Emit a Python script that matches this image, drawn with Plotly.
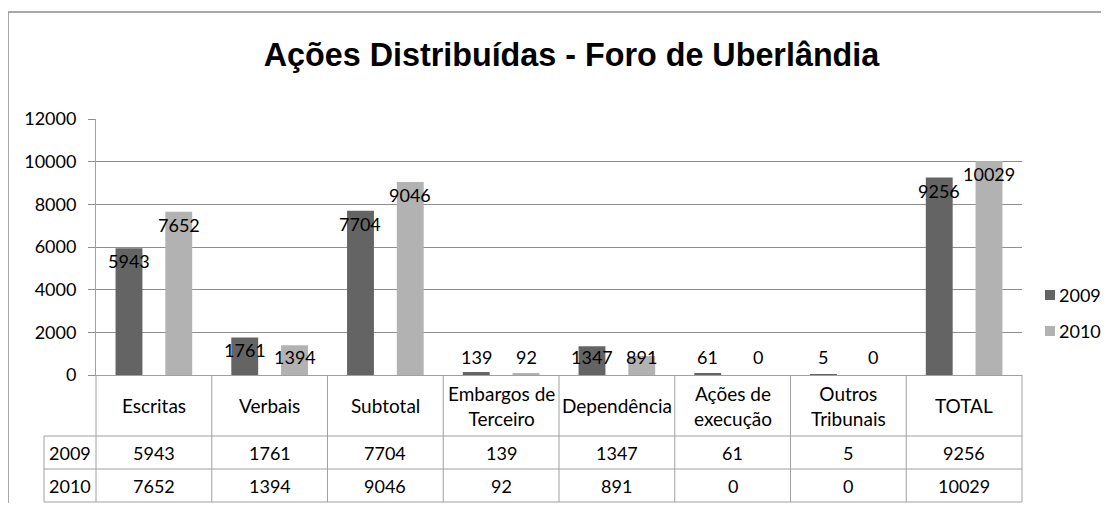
import plotly.graph_objects as go

categories = ["Escritas", "Verbais", "Subtotal", "Embargos de Terceiro", "Dependência",
              "Ações de execução", "Outros Tribunais", "TOTAL"]
header_labels = ["Escritas", "Verbais", "Subtotal", "Embargos de<br>Terceiro", "Dependência",
                 "Ações de<br>execução", "Outros<br>Tribunais", "TOTAL"]
series_names = ["2009", "2010"]
values_2009 = [5943, 1761, 7704, 139, 1347, 61, 5, 9256]
values_2010 = [7652, 1394, 9046, 92, 891, 0, 0, 10029]
y_ticks = [0, 2000, 4000, 6000, 8000, 10000, 12000]

series_values = [values_2009, values_2010]
colors = ["#646464", "#b2b2b2"]

FONT = "Lato"
FS = 18
FS_HEAD = 19
OFF = 8                      # page body margin
PAGE_W, PAGE_H = 1109, 511
W, H = PAGE_W - 2 * OFF, PAGE_H - 2 * OFF   # fit inside the viewport (no scrollbars)
# plot area in page pixels
PX_L, PX_R, PX_T, PX_B = 96, 1022, 119, 375
ML, MR, MT, MB = PX_L - OFF, W - (PX_R - OFF), PX_T - OFF, H - (PX_B - OFF)
PW = PX_R - PX_L
PH = PX_B - PX_T

def py2paper(py):
    return (PX_B - py) / PH

def px2paper(px):
    return (px - PX_L) / PW

fig = go.Figure()
for i, (name, vals) in enumerate(zip(series_names, series_values)):
    fig.add_trace(go.Bar(
        x=categories, y=vals, name=name, marker=dict(color=colors[i], line=dict(width=0)),
        hoverinfo="x+y+name", showlegend=False
    ))

annotations = []
shapes = []

# data labels on bars
label_floor = 1450
for i, vals in enumerate(series_values):
    shift = -25 if i == 0 else 25
    for c, v in zip(categories, vals):
        annotations.append(dict(
            x=c, y=max(v, label_floor), xref="x", yref="y", text=str(v),
            showarrow=False, xshift=shift, yanchor="top", xanchor="center",
            font=dict(family=FONT, size=FS, color="#000000")
        ))

# data table
grid_col = "#a0a0a0"
y_axis = py2paper(375)
y_r1 = py2paper(436)
y_r2 = py2paper(469)
y_r3 = py2paper(502)
x_left = px2paper(44)
n = len(categories)
for k in range(n + 1):
    shapes.append(dict(type="line", xref="paper", yref="paper", x0=k / n, x1=k / n,
                       y0=y_axis, y1=y_r3, line=dict(color=grid_col, width=1)))
for yy in (y_r1, y_r2, y_r3):
    shapes.append(dict(type="line", xref="paper", yref="paper", x0=x_left, x1=1,
                       y0=yy, y1=yy, line=dict(color=grid_col, width=1)))
shapes.append(dict(type="line", xref="paper", yref="paper", x0=x_left, x1=x_left,
                   y0=y_r1, y1=y_r3, line=dict(color=grid_col, width=1)))

for c, lab in zip(categories, header_labels):
    annotations.append(dict(x=c, y=(y_axis + y_r1) / 2, xref="x", yref="paper", text=lab,
                            showarrow=False, yanchor="middle", xanchor="center",
                            font=dict(family=FONT, size=FS_HEAD, color="#000000")))
for row_y, name, vals in (((y_r1 + y_r2) / 2, series_names[0], values_2009),
                          ((y_r2 + y_r3) / 2, series_names[1], values_2010)):
    annotations.append(dict(x=x_left / 2, y=row_y, xref="paper", yref="paper", text=name,
                            showarrow=False, yanchor="middle", xanchor="center",
                            font=dict(family=FONT, size=FS, color="#000000")))
    for c, v in zip(categories, vals):
        annotations.append(dict(x=c, y=row_y, xref="x", yref="paper", text=str(v),
                                showarrow=False, yanchor="middle", xanchor="center",
                                font=dict(family=FONT, size=FS, color="#000000")))

# legend (drawn manually so it fits beside the plot like the original)
legend_rows_py = [295, 331]
for name, col, cy in zip(series_names, colors, legend_rows_py):
    shapes.append(dict(type="rect", xref="paper", yref="paper",
                       x0=px2paper(1045), x1=px2paper(1055),
                       y0=py2paper(cy + 5), y1=py2paper(cy - 5),
                       line=dict(width=0), fillcolor=col))
    annotations.append(dict(x=px2paper(1057), y=py2paper(cy), xref="paper", yref="paper",
                            text=name, showarrow=False, xanchor="left", yanchor="middle",
                            font=dict(family=FONT, size=FS, color="#000000")))

# outer chart border (extends past right and bottom edges)
shapes.append(dict(type="rect", xref="paper", yref="paper",
                   x0=px2paper(8), x1=px2paper(PAGE_W + 30),
                   y0=py2paper(PAGE_H + 30), y1=py2paper(12),
                   line=dict(color="#8c8c8c", width=1.5), fillcolor="rgba(0,0,0,0)", layer="below"))

fig.update_layout(
    width=W, height=H,
    margin=dict(l=ML, r=MR, t=MT, b=MB, pad=0, autoexpand=False),
    paper_bgcolor="white", plot_bgcolor="white",
    title=dict(text="<b>Ações Distribuídas - Foro de Uberlândia</b>",
               x=(571.5 - OFF) / W, xanchor="center", y=1 - (55 - OFF) / H, yanchor="middle",
               font=dict(family="Liberation Sans, Arial", size=32.3, color="#000000")),
    barmode="group", bargap=0.14, bargroupgap=0.46,
    showlegend=False,
    font=dict(family=FONT, size=FS, color="#000000"),
    annotations=annotations,
    shapes=shapes,
)
fig.update_xaxes(showticklabels=False, showline=True, linecolor=grid_col, linewidth=1,
                 ticks="", showgrid=False, range=[-0.5, n - 0.5], fixedrange=True)
fig.update_yaxes(range=[0, 12000], tickvals=y_ticks, ticktext=[str(t) for t in y_ticks],
                 showgrid=True, gridcolor="#8e8e8e", gridwidth=1,
                 showline=True, linecolor=grid_col, linewidth=1,
                 ticks="outside", ticklen=7, tickcolor="#8e8e8e", ticklabelstandoff=8,
                 tickfont=dict(family=FONT, size=FS, color="#000000"),
                 zeroline=False, fixedrange=True)

fig.write_html("out.html")
